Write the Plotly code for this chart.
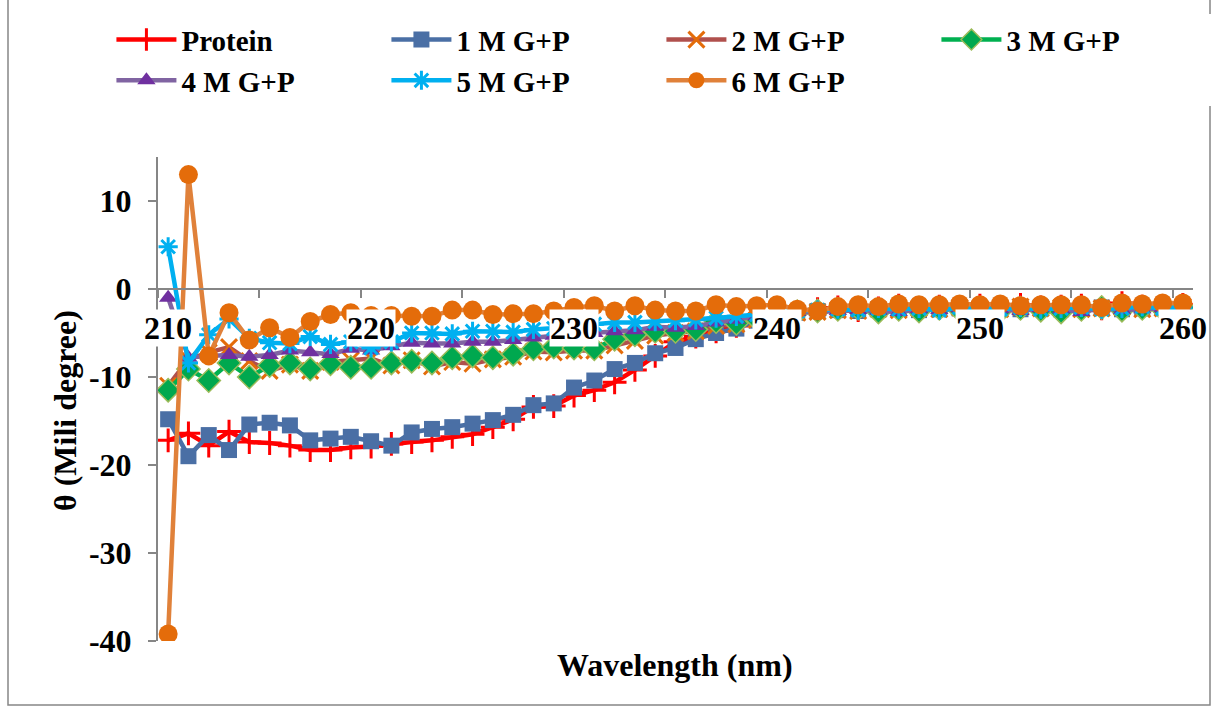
import plotly.graph_objects as go

wavelength = list(range(210, 261))

protein = [-17.2, -16.4, -17.8, -16.2, -17.4, -17.5, -17.8, -18.3, -18.3, -18.0,
           -17.9, -17.6, -17.4, -17.2, -16.8, -16.5, -15.7, -14.8, -13.4, -13.3,
           -12.1, -11.5, -10.6, -9.2, -7.6, -6.0, -5.4, -4.8, -4.2, -3.6,
           -3.0, -2.6, -2.3, -2.1, -2.4, -2.2, -1.9, -2.3, -2.0, -2.1,
           -1.9, -2.2, -1.8, -2.1, -2.0, -1.9, -2.2, -1.6, -2.0, -2.2, -1.8]

m1 = [-14.8, -19.0, -16.6, -18.3, -15.4, -15.2, -15.5, -17.2, -17.0, -16.8,
      -17.3, -17.8, -16.3, -15.9, -15.7, -15.3, -14.9, -14.3, -13.2, -13.0,
      -11.2, -10.4, -9.1, -8.4, -7.3, -6.7, -5.7, -5.0, -4.5, -3.6,
      -3.0, -2.7, -2.5, -2.4, -2.5, -2.3, -2.2, -2.4, -2.3, -2.2,
      -2.3, -2.2, -2.3, -2.1, -2.3, -2.2, -2.1, -2.3, -2.2, -2.1, -2.0]

m2 = [-11.0, -8.0, -7.2, -6.6, -8.2, -9.3, -8.6, -9.3, -8.3, -8.1,
      -7.9, -8.7, -8.1, -8.8, -8.3, -8.5, -8.0, -7.7, -7.1, -7.2,
      -7.0, -7.0, -6.4, -5.9, -5.3, -5.0, -4.8, -4.2, -4.0, -3.5,
      -3.0, -2.7, -2.6, -2.4, -2.5, -2.3, -2.4, -2.2, -2.3, -2.1,
      -2.2, -2.3, -2.0, -2.2, -2.1, -2.3, -2.2, -2.1, -2.3, -2.2, -2.0]

m3 = [-11.5, -9.1, -10.4, -8.4, -10.0, -8.7, -8.4, -9.1, -8.5, -8.9,
      -8.9, -8.4, -8.2, -8.4, -7.8, -7.6, -7.8, -7.4, -6.8, -6.6,
      -6.7, -6.8, -5.7, -5.2, -4.8, -4.8, -4.6, -3.7, -3.9, -3.4,
      -2.9, -2.6, -2.5, -2.3, -2.2, -2.6, -2.3, -2.5, -2.2, -2.4,
      -2.3, -2.5, -2.2, -2.4, -2.6, -2.3, -2.1, -2.4, -2.2, -2.3, -2.1]

m4 = [-1.0, -7.8, -7.6, -7.5, -7.7, -7.5, -7.0, -7.2, -7.4, -6.8,
      -7.0, -6.5, -6.1, -6.2, -6.2, -6.0, -6.0, -5.8, -5.5, -5.3,
      -5.1, -5.0, -4.8, -4.7, -4.3, -4.4, -4.2, -3.8, -3.5, -3.1,
      -2.8, -2.6, -2.6, -2.5, -2.4, -2.5, -2.6, -2.3, -2.4, -2.2,
      -2.4, -2.3, -2.5, -2.2, -2.3, -2.6, -2.2, -2.4, -2.3, -2.2, -2.1]

m5 = [4.8, -8.4, -5.2, -3.4, -5.6, -6.1, -6.2, -5.4, -6.3, -6.0,
      -6.7, -6.0, -5.0, -5.0, -5.1, -4.8, -4.8, -4.9, -4.6, -4.5,
      -4.3, -4.0, -3.8, -3.8, -3.7, -3.6, -3.5, -3.3, -3.1, -2.9,
      -2.6, -2.5, -2.4, -2.3, -2.4, -2.2, -2.3, -2.2, -2.4, -2.1,
      -2.2, -2.3, -2.1, -2.3, -2.2, -2.1, -2.3, -2.2, -2.0, -2.2, -2.1]

m6 = [-39.2, 13.0, -7.6, -2.7, -5.8, -4.4, -5.5, -3.7, -2.9, -2.7,
      -3.0, -3.0, -3.1, -3.1, -2.4, -2.4, -2.9, -2.8, -2.8, -2.5,
      -2.1, -1.9, -2.5, -1.9, -2.4, -2.5, -2.5, -1.8, -2.0, -1.9,
      -1.8, -2.3, -2.5, -2.0, -1.8, -2.0, -1.7, -1.8, -1.8, -1.7,
      -1.8, -1.7, -1.9, -1.8, -1.8, -1.8, -2.1, -1.6, -1.7, -1.6, -1.6]

series_names = ["Protein", "1 M G+P", "2 M G+P", "3 M G+P", "4 M G+P", "5 M G+P", "6 M G+P"]
y_ticks = [-40, -30, -20, -10, 0, 10]
x_labels = [210, 220, 230, 240, 250, 260]

FONT = "Liberation Serif"
fs = 32

styles = [
    dict(line=dict(color="#FF0000", width=4.5),
         marker=dict(symbol="cross-thin", size=17, line=dict(color="#FF0000", width=3))),
    dict(line=dict(color="#4A6FA5", width=4.5),
         marker=dict(symbol="square", size=16, color="#4A6FA5")),
    dict(line=dict(color="#B0504D", width=4.5),
         marker=dict(symbol="x-thin", size=16, line=dict(color="#E46C0A", width=3))),
    dict(line=dict(color="#00B050", width=4.5),
         marker=dict(symbol="diamond", size=18, color="#00A84F", line=dict(color="#9BBB59", width=1.5))),
    dict(line=dict(color="#8064A2", width=4.5),
         marker=dict(symbol="triangle-up", size=16, color="#7030A0")),
    dict(line=dict(color="#00B0F0", width=4.5),
         marker=dict(symbol="asterisk", size=16, line=dict(color="#00B0F0", width=3))),
    dict(line=dict(color="#E0813A", width=4.5),
         marker=dict(symbol="circle", size=19, color="#E46C0A")),
]

fig = go.Figure()
for name, ys, st in zip(series_names, [protein, m1, m2, m3, m4, m5, m6], styles):
    fig.add_trace(go.Scatter(x=wavelength, y=ys, name=name, mode="lines+markers",
                             line=st["line"], marker=st["marker"]))

ymin, ymax = -40, 15
fig.update_layout(
    width=1218, height=709,
    margin=dict(l=158, r=25, t=157, b=68),
    paper_bgcolor="white", plot_bgcolor="white",
    font=dict(family=FONT, size=fs, color="black", weight="bold"),
    legend=dict(orientation="h", x=-0.045, y=1.295, xanchor="left", yanchor="top",
                entrywidth=200, entrywidthmode="pixels",
                font=dict(family=FONT, size=29, weight="bold"), tracegroupgap=0,
                itemwidth=60),
    xaxis=dict(range=[209.5, 260.5], showgrid=False, zeroline=False,
               tickvals=[209.5 + 5 * k for k in range(11)], showticklabels=False,
               ticks="outside", ticklen=8, tickcolor="#868686", tickwidth=2,
               showline=True, linecolor="#868686", linewidth=2,
               anchor="free", position=(0 - ymin) / (ymax - ymin)),
    yaxis=dict(range=[ymin, ymax], showgrid=False, zeroline=False,
               tickvals=y_ticks, ticktext=[str(v) for v in y_ticks],
               ticks="outside", ticklen=8, tickcolor="#868686", tickwidth=2,
               showline=True, linecolor="#868686", linewidth=2, ticklabelstandoff=10,
               tickfont=dict(family=FONT, size=fs, weight="bold")),
    showlegend=True,
)

for v in x_labels:
    fig.add_annotation(x=v, y=0, xref="x", yref="y", text=str(v), showarrow=False,
                       yanchor="top", yshift=-20, bgcolor="white", borderpad=0,
                       font=dict(family=FONT, size=fs, weight="bold"))

fig.add_annotation(x=(675 - 158) / 1035, y=(641 - 665) / 484, xref="paper", yref="paper",
                   xanchor="center", yanchor="middle",
                   text="Wavelength (nm)", showarrow=False,
                   font=dict(family=FONT, size=fs, weight="bold"))
fig.add_annotation(x=(65 - 158) / 1035, y=(641 - 411) / 484, xref="paper", yref="paper",
                   xanchor="center", yanchor="middle",
                   text="θ (Mili degree)", showarrow=False, textangle=-90,
                   font=dict(family=FONT, size=fs, weight="bold"))

fig.add_shape(type="rect", xref="paper", yref="paper",
              x0=(8 - 158) / 1035, x1=(1210 - 158) / 1035,
              y0=(641 - 705) / 484, y1=(641 + 20) / 484,
              line=dict(color="#868686", width=1.5), fillcolor="rgba(0,0,0,0)", layer="below")

fig.write_html("out.html")
